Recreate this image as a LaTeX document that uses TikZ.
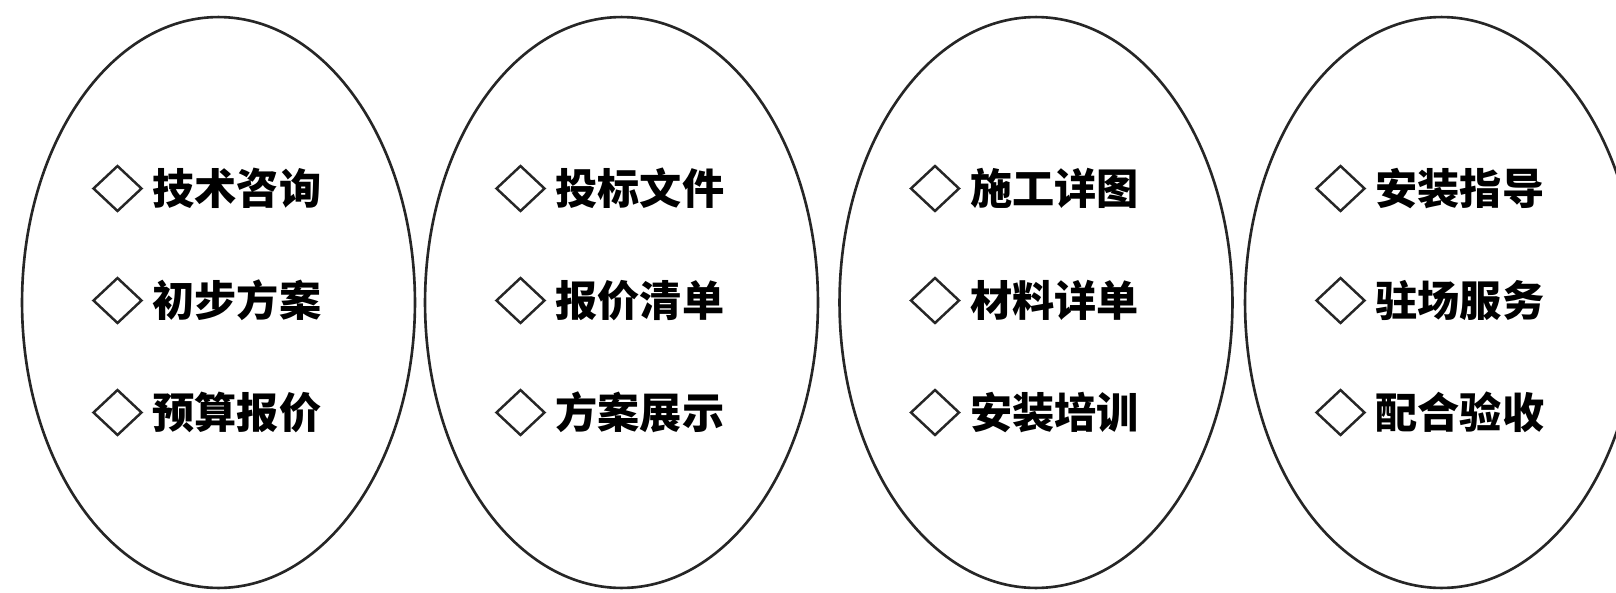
\documentclass[tikz,border=0pt]{standalone}
\usepackage{fontspec}
\newfontfamily\cjk{Noto Sans CJK SC}
\usetikzlibrary{shapes.geometric,calc,positioning}

\begin{document}
\begin{tikzpicture}[x=0.02cm,y=-0.02cm,
    oval/.style={draw=black!85, ellipse, line width=1.5pt, minimum width=7.86cm, minimum height=11.42cm, inner sep=0pt},
    mark box/.style={draw=black!85, diamond, line width=1.4pt, minimum width=0.98cm, minimum height=0.92cm, inner sep=0pt},
    item/.style={inner sep=0pt, font=\cjk\bfseries\fontsize{24}{24}\selectfont}]
    \clip (0,0) rectangle (1616,592);
    \node[oval] (e1) at (218.5,302.5) {};
    \node[oval] (e2) at (621.5,302.5) {};
    \node[oval] (e3) at (1036,302.5) {};
    \node[oval] (e4) at (1441.5,302.5) {};
    % three items per oval
    \foreach \e/\ia/\ib/\ic in {1/技术咨询/初步方案/预算报价,
                               2/投标文件/报价清单/方案展示,
                               3/施工详图/材料详单/安装培训,
                               4/安装指导/驻场服务/配合验收}{
      \node[mark box] (d\e a) at ($(e\e.center)+(-101,-114)$) {};
      \node[mark box] (d\e b) at ($(e\e.center)+(-101,-2)$) {};
      \node[mark box] (d\e c) at ($(e\e.center)+(-101,110)$) {};
      \node[item, right=0.18cm of d\e a] (t\e a) {\ia};
      \node[item, right=0.18cm of d\e b] (t\e b) {\ib};
      \node[item, right=0.18cm of d\e c] (t\e c) {\ic};
    }
\end{tikzpicture}
\end{document}
